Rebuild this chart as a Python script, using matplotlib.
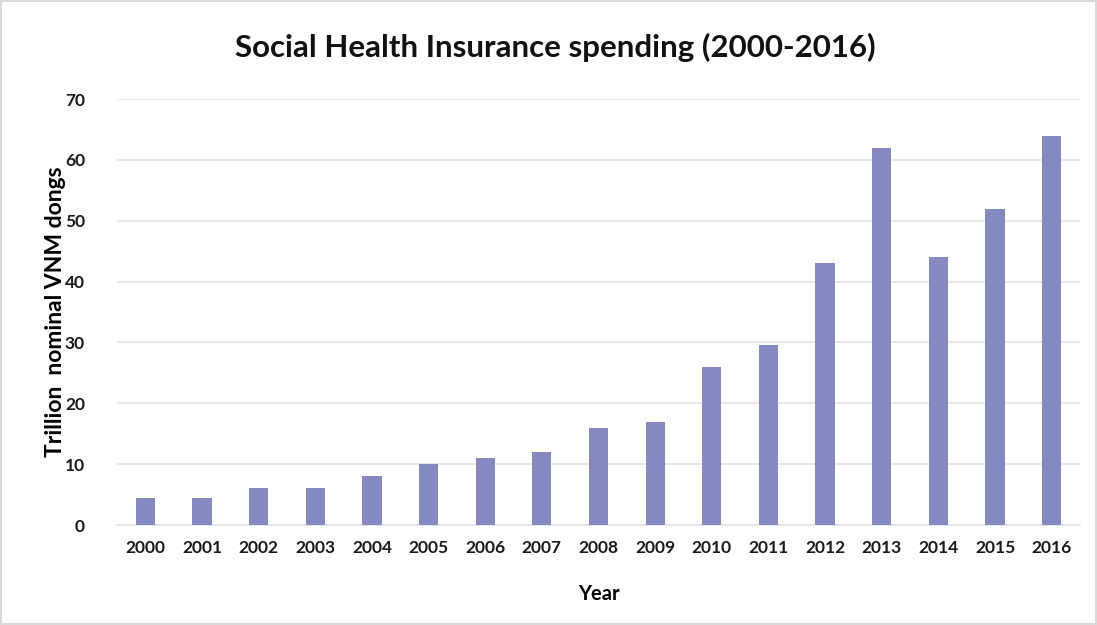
import matplotlib.pyplot as plt
import numpy as np

years = ['2000', '2001', '2002', '2003', '2004', '2005', '2006', '2007', '2008',
         '2009', '2010', '2011', '2012', '2013', '2014', '2015', '2016']
spending = [4.5, 4.5, 6, 6, 8, 10, 11, 12, 16, 17, 26, 29.5, 43, 62, 44, 52, 64]
yticks = [0, 10, 20, 30, 40, 50, 60, 70]

plt.rcParams['font.family'] = ['Lato', 'DejaVu Sans']

fig = plt.figure(figsize=(10.97, 6.25), dpi=100)
fig.patch.set_edgecolor('#d9d9d9')
fig.patch.set_linewidth(1.5)
ax = fig.add_axes([117 / 1097, 1 - 525 / 625, (1080 - 117) / 1097, (525 - 99) / 625])

x = np.arange(len(years))
ax.bar(x, spending, width=0.34, color='#8489C2', zorder=3)

ax.set_ylim(0, 70)
ax.set_xlim(-0.5, len(years) - 0.5)
ax.set_yticks(yticks)
ax.set_xticks(x)
ax.set_xticklabels(years)
ax.tick_params(axis='both', length=0, labelsize=12.5, colors='#1a1a1a')
ax.tick_params(axis='y', pad=23)
ax.tick_params(axis='x', pad=11)
for lab in ax.get_xticklabels() + ax.get_yticklabels():
    lab.set_fontweight('bold')

ax.grid(axis='y', color='#e3e3e3', linewidth=1.2, zorder=0)
for s in ['top', 'right', 'left']:
    ax.spines[s].set_visible(False)
ax.spines['bottom'].set_color('#e3e3e3')
ax.spines['bottom'].set_linewidth(1.2)

ax.set_xlabel('Year', fontsize=14.5, fontweight='bold', labelpad=20)
ax.set_ylabel('Trillion  nominal VNM dongs', fontsize=16.5, fontweight='bold', va='center')
ax.yaxis.set_label_coords(-0.0635, 0.5)
fig.text(555 / 1097, 1 - 47 / 625, 'Social Health Insurance spending (2000-2016)',
         ha='center', va='center', fontsize=22.5, fontweight='bold', color='#111111')

fig.savefig('out.png', dpi=100, edgecolor=fig.get_edgecolor())
